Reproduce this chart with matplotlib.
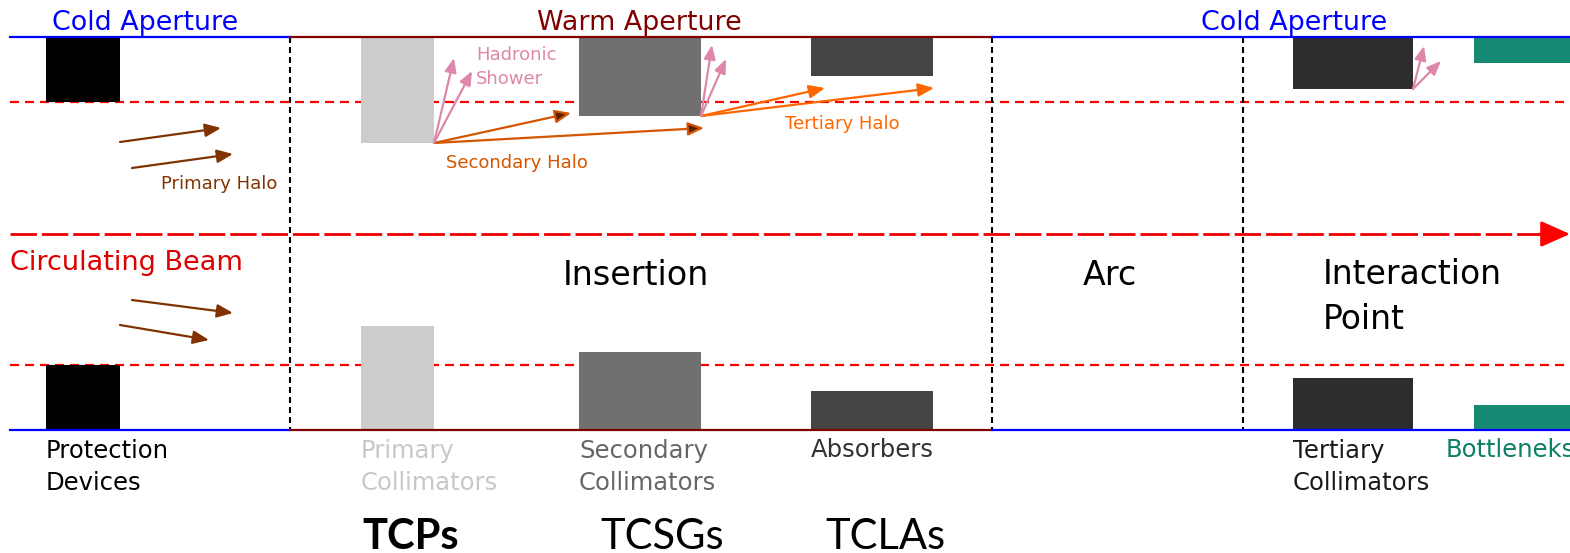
import matplotlib.pyplot as plt
from matplotlib.patches import Rectangle

plt.rcParams['font.family'] = ['DejaVu Sans']
plt.rcParams['lines.scale_dashes'] = False

# diagram geometry, in picture pixels (y grows downward)
top_wall = 37
bottom_wall = 430
beam_y = 234
halo_top = 102
halo_bottom = 365
section_breaks = [290, 992, 1243]

# devices along the beam line
device_names = ["Protection\nDevices", "Primary\nCollimators", "Secondary\nCollimators",
                "Absorbers", "Tertiary\nCollimators", "Bottleneks"]
device_left = [46, 361, 579, 811, 1293, 1474]
device_right = [120, 434, 701, 933, 1413, 1572]
device_top_jaw = [102, 143, 116, 76, 89, 63]
device_bottom_jaw = [365, 326, 352, 391, 378, 405]
device_color = ["#000000", "#cccccc", "#707070", "#444444", "#2d2d2d", "#168a72"]
label_color = ["#000000", "#c8c8c8", "#666666", "#333333", "#1a1a1a", "#0b8065"]
label_lines = [2, 2, 2, 1, 2, 1]

# collimator family names under the insertion
family_names = ["TCPs", "TCSGs", "TCLAs"]
family_x = [362, 600, 825]
family_weight = ["bold", "normal", "normal"]

# halo / shower arrows: (x0, y0, x1, y1)
primary_halo = [(120, 142, 221, 128), (132, 168, 233, 154),
                (132, 300, 233, 313), (120, 325, 209, 340)]
secondary_halo = [(434, 143, 571, 113), (434, 143, 704, 128)]
tertiary_halo = [(701, 116, 825, 88), (701, 116, 934, 88)]
showers = [(434, 143, 454, 58), (434, 143, 472, 71),
           (701, 116, 712, 45), (701, 116, 726, 59),
           (1413, 89, 1424, 46), (1413, 89, 1441, 61)]

fig = plt.figure(figsize=(15.7, 5.53), dpi=100)
ax = fig.add_axes([0, 0, 1, 1])
ax.set_xlim(0, 1570)
ax.set_ylim(553, 0)
ax.axis('off')

# aperture walls: cold - warm - cold
for y in [top_wall, bottom_wall]:
    ax.plot([10, section_breaks[0]], [y, y], color='#0000ff', lw=1.6, zorder=3)
    ax.plot([section_breaks[0], section_breaks[1]], [y, y], color='#800000', lw=1.6, zorder=3)
    ax.plot([section_breaks[1], 1570], [y, y], color='#0000ff', lw=1.6, zorder=3)

# halo boundaries
for y in [halo_top, halo_bottom]:
    ax.plot([10, 1570], [y, y], color='#ff0000', lw=1.6, dashes=(6.5, 4.3), zorder=1)

# section separators
for x in section_breaks:
    ax.plot([x, x], [top_wall, bottom_wall], color='black', lw=1.5, dashes=(4.3, 2.9), zorder=1)

# circulating beam
ax.plot([10, 1545], [beam_y, beam_y], color='#ee0000', lw=2.0, dashes=(19, 3.6), zorder=1)
ax.annotate('', xy=(1570, beam_y), xytext=(1540, beam_y),
            arrowprops=dict(arrowstyle='-|>,head_length=0.9,head_width=0.4', color='#ff0000',
                            lw=2, mutation_scale=20, shrinkA=0, shrinkB=0))

# devices (upper and lower jaws) and their labels
for i in range(len(device_names)):
    w = device_right[i] - device_left[i]
    ax.add_patch(Rectangle((device_left[i], top_wall), w, device_top_jaw[i] - top_wall,
                           facecolor=device_color[i], edgecolor='none', zorder=2))
    ax.add_patch(Rectangle((device_left[i], device_bottom_jaw[i]), w, bottom_wall - device_bottom_jaw[i],
                           facecolor=device_color[i], edgecolor='none', zorder=2))
    lx = device_left[i] if i != 5 else 1446
    # baseline of the last line
    ax.text(lx, 457 + 33 * (label_lines[i] - 1), device_names[i], color=label_color[i],
            fontsize=17.5, ha='left', va='baseline', linespacing=1.4)


def draw_arrows(segs, line_c, head_c, ms=16):
    for x0, y0, x1, y1 in segs:
        ax.annotate('', xy=(x1, y1), xytext=(x0, y0),
                    arrowprops=dict(arrowstyle='-|>,head_length=0.6,head_width=0.25',
                                    ec=line_c, fc=head_c, lw=1.6, mutation_scale=ms,
                                    shrinkA=0, shrinkB=0), zorder=4)


draw_arrows(primary_halo, '#803300', '#803300')
draw_arrows(secondary_halo, '#d45500', '#552200')
draw_arrows(tertiary_halo, '#ff6600', '#ff6600')
draw_arrows(showers, '#de87aa', '#de87aa', ms=14)

# headings
ax.text(52, 30, "Cold Aperture", color='#0000ff', fontsize=19.4, va='baseline')
ax.text(639, 30, "Warm Aperture", color='#800000', fontsize=19.4, ha='center', va='baseline')
ax.text(1201, 30, "Cold Aperture", color='#0000ff', fontsize=19.4, va='baseline')
ax.text(10, 270, "Circulating Beam", color='#dd0000', fontsize=19.5, va='baseline')
ax.text(563, 285, "Insertion", fontsize=24, va='baseline')
ax.text(1083, 285, "Arc", fontsize=24, va='baseline')
ax.text(1323, 329, "Interaction\nPoint", fontsize=23.8, va='baseline', linespacing=1.45)

# halo labels
ax.text(161, 189, "Primary Halo", color='#803300', fontsize=13, va='baseline')
ax.text(446, 168, "Secondary Halo", color='#d45500', fontsize=13, va='baseline')
ax.text(785, 129, "Tertiary Halo", color='#ff6600', fontsize=13, va='baseline')
ax.text(476, 84, "Hadronic\nShower", color='#de87aa', fontsize=13, va='baseline', linespacing=1.4)

for i in range(len(family_names)):
    ax.text(family_x[i], 549, family_names[i], fontsize=30, fontweight=family_weight[i],
            family=['Lato', 'DejaVu Sans'], va='baseline')

fig.savefig('out.png', dpi=100)
